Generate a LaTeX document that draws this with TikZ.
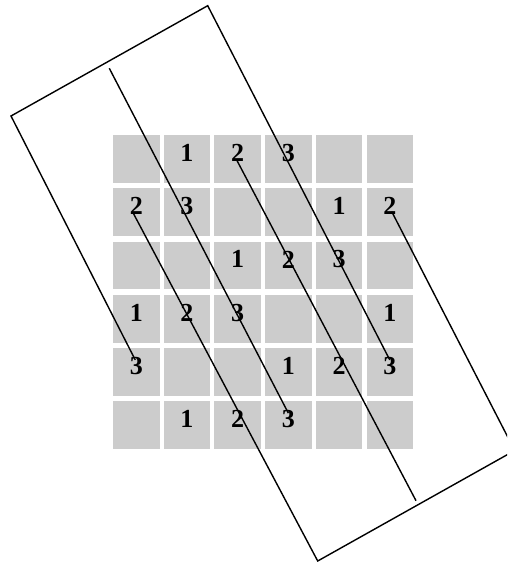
\documentclass[tikz,border=0pt]{standalone}
\usepackage{fontspec}
\setmainfont{Liberation Serif}
\usetikzlibrary{calc}
\definecolor{cellGray}{HTML}{CCCCCC}

\begin{document}
\begin{tikzpicture}[x=1pt, y=-1pt,
    cell/.style={fill=cellGray, minimum width=46.5pt, minimum height=47.8pt, inner sep=0pt},
    digit/.style={font=\fontsize{26}{26}\selectfont\bfseries, inner sep=0pt},
    strip/.style={black, line width=1.4pt, line join=miter},
  ]
  \useasboundingbox (0,0) rectangle (507,565);
  \clip (0,0) rectangle (507,565);

  % Grid cells
  \foreach \r in {1,...,6}
    \foreach \c in {1,...,6}
      \node[cell] (c\r\c) at ({136.25+50.7*(\c-1)}, {158.9+53.25*(\r-1)}) {};

  % Numbers
  \foreach \r/\c/\v in {1/2/1, 1/3/2, 1/4/3, 2/1/2, 2/2/3, 2/5/1, 2/6/2,
                        3/3/1, 3/4/2, 3/5/3, 4/1/1, 4/2/2, 4/3/3, 4/6/1,
                        5/1/3, 5/4/1, 5/5/2, 5/6/3, 6/2/1, 6/3/2, 6/4/3}
    \node[digit] (d\r\c) at ($(c\r\c)+(0,-6)$) {\v};

  % Strip corners and free ends
  \coordinate (L) at (11,116);
  \coordinate (T) at (207.7,5.7);
  \coordinate (B) at (317.7,561);
  \coordinate (R) at (514.7,450.5);
  \coordinate (midtop) at (109.3,68.3);
  \coordinate (midbot) at (416,500.7);

  % Strip edges
  \draw[strip] ([xshift=-1pt,yshift=6pt]d51.center) -- (L) -- (T)
    -- ([yshift=6pt]d56.center);
  \draw[strip] ([xshift=-3pt,yshift=-7pt]d21.center) -- (B) -- (R)
    -- ([xshift=2pt,yshift=-5.5pt]d26.center);

  % Middle line
  \draw[strip] (midtop) -- ([yshift=6pt]d64.center);
  \draw[strip] ([xshift=-1pt,yshift=-7pt]d13.center) -- (midbot);
\end{tikzpicture}
\end{document}
